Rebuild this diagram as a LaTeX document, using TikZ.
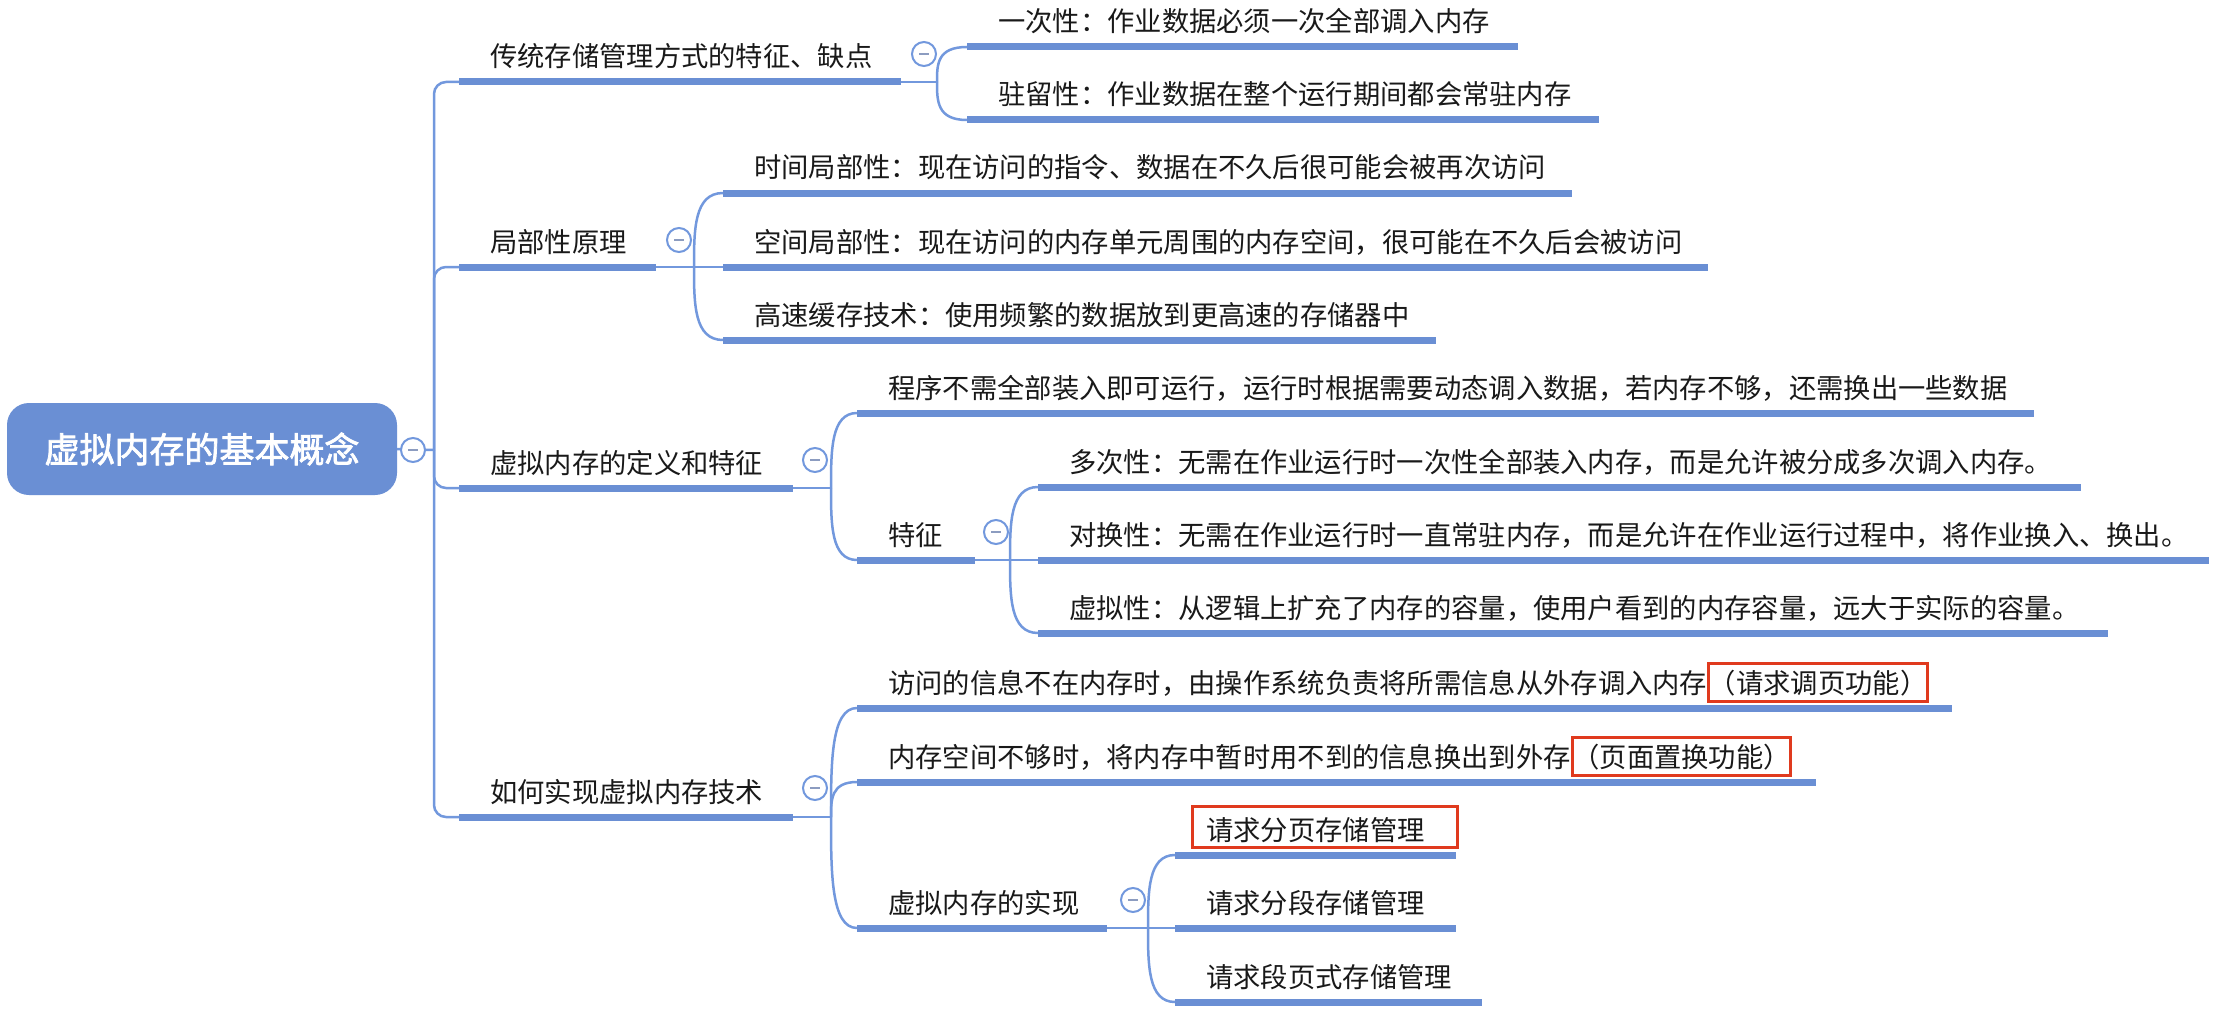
\documentclass[tikz,border=0pt]{standalone}
\usepackage{fontspec}
\newfontfamily\cjk{Noto Sans CJK SC}
\newfontfamily\cjkb{Noto Sans CJK SC}[FakeBold=2.2]
\usetikzlibrary{calc}
\definecolor{ulblue}{RGB}{106,143,212}
\definecolor{lnblue}{RGB}{114,152,221}
\definecolor{mgray}{RGB}{140,156,192}
\definecolor{redc}{RGB}{224,58,30}
\definecolor{txt}{RGB}{25,25,25}
\tikzset{
  ul/.style={draw=ulblue, line width=7pt},
  conn/.style={draw=lnblue, line width=2.5pt},
  lbl/.style={anchor=base west, inner sep=0pt, text=txt, font=\cjk\fontsize{27.3}{32}\selectfont},
  redlbl/.style={lbl, draw=redc, line width=3pt, inner xsep=0pt, inner ysep=6pt},
  redbox/.style={draw=redc, line width=3pt},
  coll/.style={circle, draw=lnblue, line width=2pt, fill=white, minimum size=24pt, inner sep=0pt},
  minus/.style={draw=mgray, line width=2pt},
  rootbox/.style={fill=ulblue, rounded corners=22pt, minimum width=390pt, minimum height=92pt, inner sep=0pt, text=white, font=\cjkb\fontsize{35}{40}\selectfont}
}
\newcommand\ulnode[5]{%
  \coordinate (#1s) at (#2,#4);
  \coordinate (#1e) at (#3,#4);
  \draw[ul] (#1s) -- (#1e);
  \node[lbl] (#1t) at (#2+31,#4-15) {#5};}
\newcommand\blink[2]{\draw[conn] (#1) .. controls ($(#1)!0.5!(#1|-#2)$) and (#1|-#2) .. (#2);}
\newcommand\collnode[3]{\node[coll] (#1) at (#2,#3) {};
  \draw[minus] ([xshift=-5pt]#1.center) -- ([xshift=5pt]#1.center);}
\begin{document}
\begin{tikzpicture}[x=1pt,y=-1pt]
\useasboundingbox (0,0) rectangle (2217,1022);
\fill[white] (0,0) rectangle (2217,1022);

% root and trunk
\node[rootbox] (root) at (202,449) {虚拟内存的基本概念};
\coordinate (tj) at (434,450);
\draw[conn] (root.east) -- (tj);

% level 1
\ulnode{B1}{459}{901}{82}{传统存储管理方式的特征、缺点}
\ulnode{B2}{459}{656}{267}{局部性原理}
\ulnode{B3}{459}{793}{488}{虚拟内存的定义和特征}
\ulnode{B4}{459}{793}{817}{如何实现虚拟内存技术}
\foreach \b in {B1s,B2s,B3s,B4s}{\draw[conn, rounded corners=12pt] (tj) |- (\b);}

% level 2
\ulnode{C1}{967}{1518}{47}{一次性：作业数据必须一次全部调入内存}
\ulnode{C2}{967}{1599}{120}{驻留性：作业数据在整个运行期间都会常驻内存}
\ulnode{L1}{723}{1572}{193}{时间局部性：现在访问的指令、数据在不久后很可能会被再次访问}
\ulnode{L2}{723}{1708}{267}{空间局部性：现在访问的内存单元周围的内存空间，很可能在不久后会被访问}
\ulnode{L3}{723}{1436}{340}{高速缓存技术：使用频繁的数据放到更高速的存储器中}
\ulnode{D1}{857}{2034}{413}{程序不需全部装入即可运行，运行时根据需要动态调入数据，若内存不够，还需换出一些数据}
\ulnode{D2}{857}{975}{560}{特征}
\ulnode{T1}{1038}{2081}{487}{多次性：无需在作业运行时一次性全部装入内存，而是允许被分成多次调入内存。}
\ulnode{T2}{1038}{2209}{560}{对换性：无需在作业运行时一直常驻内存，而是允许在作业运行过程中，将作业换入、换出。}
\ulnode{T3}{1038}{2108}{633}{虚拟性：从逻辑上扩充了内存的容量，使用户看到的内存容量，远大于实际的容量。}
\ulnode{H1}{857}{1952}{708}{访问的信息不在内存时，由操作系统负责将所需信息从外存调入内存}
\ulnode{H2}{857}{1816}{782}{内存空间不够时，将内存中暂时用不到的信息换出到外存}
\ulnode{H3}{857}{1107}{928}{虚拟内存的实现}
\ulnode{V1}{1175}{1456}{855}{请求分页存储管理}
\ulnode{V2}{1175}{1456}{928}{请求分段存储管理}
\ulnode{V3}{1175}{1482}{1002}{请求段页式存储管理}

% red highlighted parts
\node[redlbl] (H1r) at (H1t.base east) {（请求调页功能）};
\node[redlbl] (H2r) at (H2t.base east) {（页面置换功能）};
\draw[redbox] ($(V1t.base west)+(-14,-34)$) rectangle ($(V1t.base west)+(251,7)$);

% junctions
\coordinate (B1j) at (937,82);
\coordinate (B2j) at (694,267);
\coordinate (B3j) at (831,488);
\coordinate (B4j) at (831,817);
\coordinate (D2j) at (1010,560);
\coordinate (H3j) at (1148,928);
\draw[conn] (B1e) -- (B1j);
\draw[conn] (B2e) -- (B2j);
\draw[conn] (B3e) -- (B3j);
\draw[conn] (B4e) -- (B4j);
\draw[conn] (D2e) -- (D2j);
\draw[conn] (H3e) -- (H3j);
\blink{B1j}{C1s}\blink{B1j}{C2s}
\blink{B2j}{L1s}\blink{B2j}{L2s}\blink{B2j}{L3s}
\blink{B3j}{D1s}\blink{B3j}{D2s}
\blink{D2j}{T1s}\blink{D2j}{T2s}\blink{D2j}{T3s}
\blink{B4j}{H1s}\blink{B4j}{H2s}\blink{B4j}{H3s}
\blink{H3j}{V1s}\blink{H3j}{V2s}\blink{H3j}{V3s}

% collapse markers
\collnode{rootc}{413}{450}
\collnode{B1c}{924}{54}
\collnode{B2c}{679}{240}
\collnode{B3c}{815}{460}
\collnode{B4c}{815}{788}
\collnode{D2c}{996}{532}
\collnode{H3c}{1133}{900}
\end{tikzpicture}
\end{document}
